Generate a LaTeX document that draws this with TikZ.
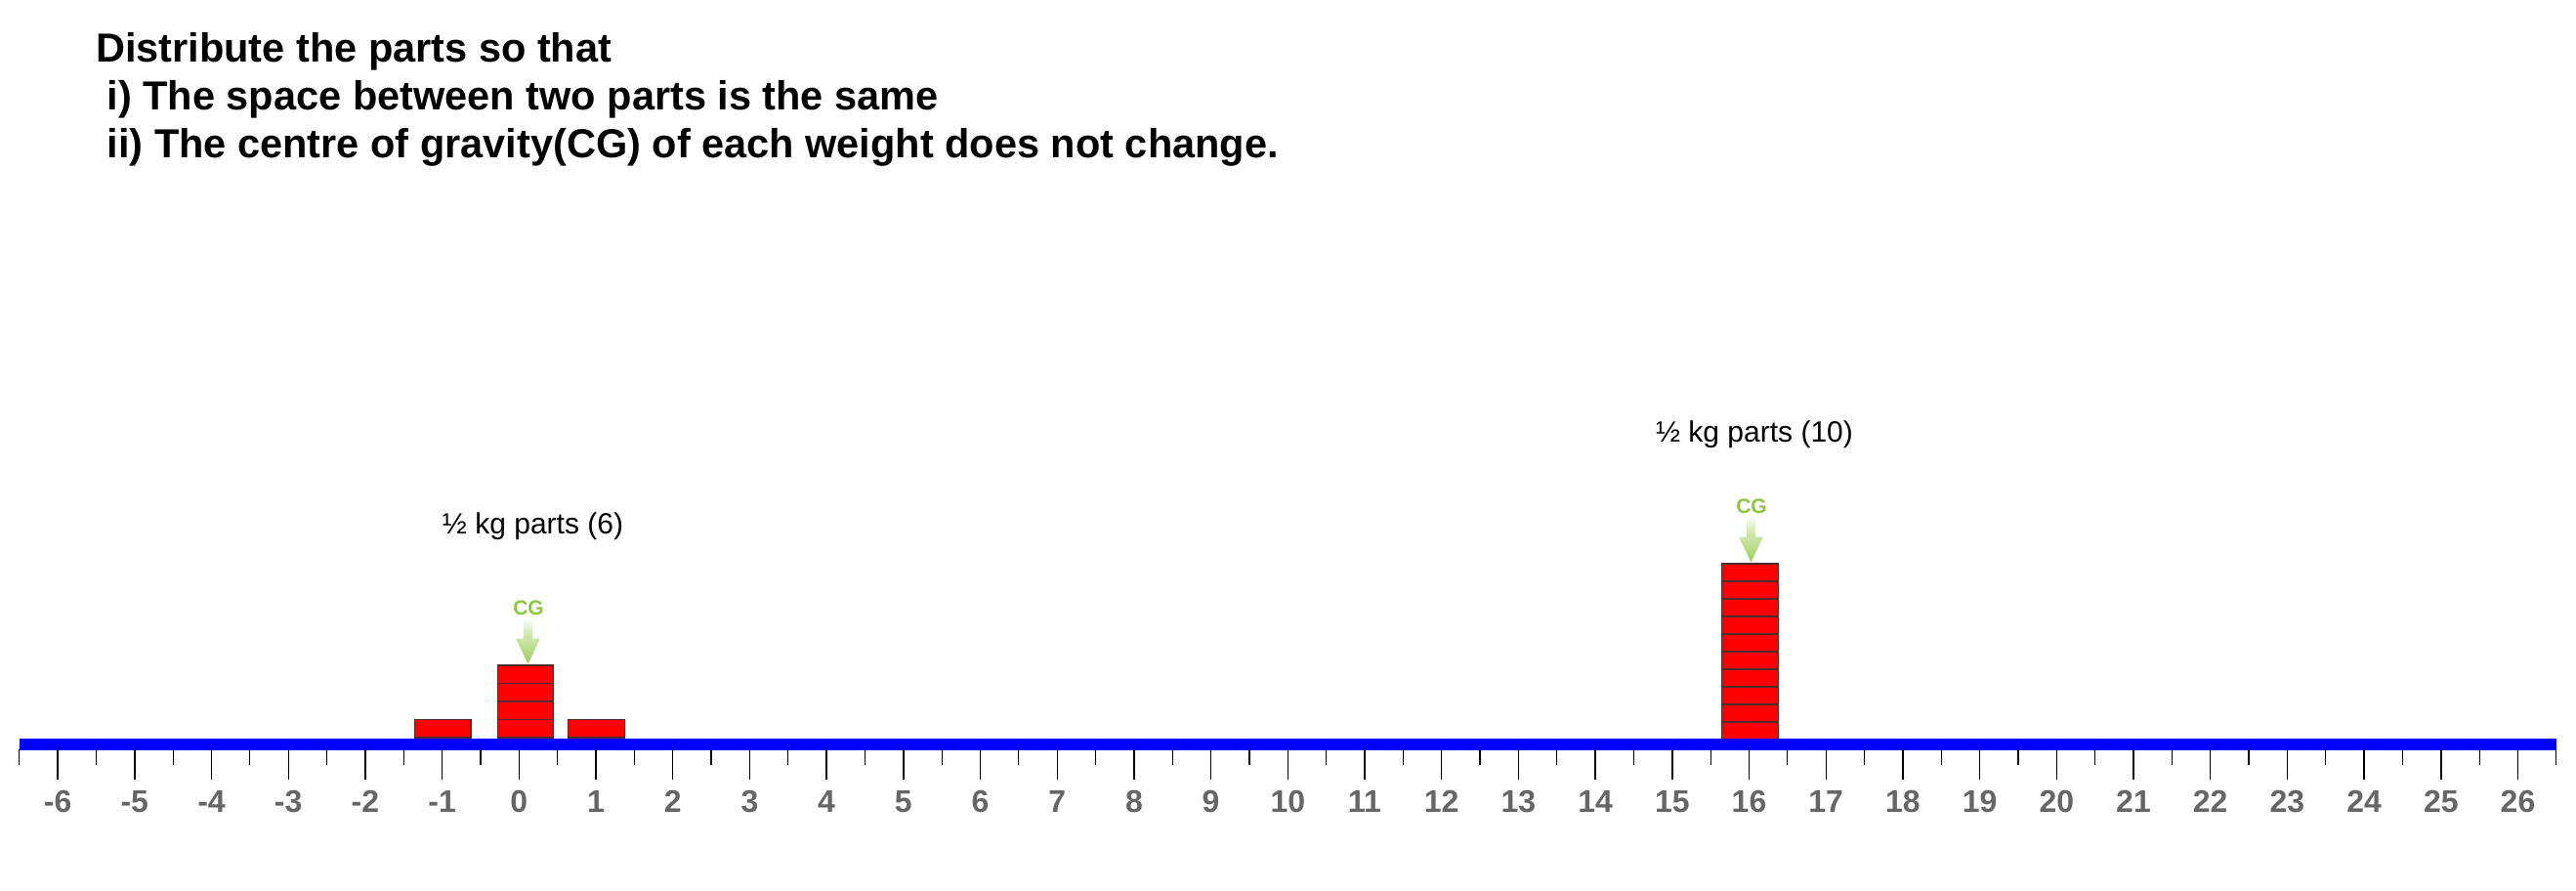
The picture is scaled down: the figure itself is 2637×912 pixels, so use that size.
\documentclass[tikz,border=0pt]{standalone}
\usepackage{fontspec}
\setmainfont{Liberation Sans}
\definecolor{axisblue}{RGB}{0,0,255}
\definecolor{partred}{RGB}{255,0,0}
\definecolor{partedge}{RGB}{75,45,45}
\definecolor{numgray}{RGB}{102,102,102}
\definecolor{cggreen}{RGB}{141,198,63}
\begin{document}
\begin{tikzpicture}[x=1pt,y=-1pt,
  titletext/.style={inner sep=0pt,anchor=base west,font=\fontsize{41.5}{50}\selectfont\bfseries},
  numlabel/.style={inner sep=0pt,anchor=base,text=numgray,font=\fontsize{32}{38}\selectfont\bfseries},
  partlabel/.style={inner sep=0pt,anchor=base,font=\fontsize{30}{36}\selectfont},
  cglabel/.style={inner sep=0pt,text=cggreen,font=\fontsize{21}{25}\selectfont\bfseries},
  majortick/.style={draw=black,line width=1.4pt},
  minortick/.style={draw=black,line width=1.2pt},
  partbox/.style={fill=partred,draw=partedge,line width=1.2pt},
]
\useasboundingbox (0,0) rectangle (2637,912);
\fill[white] (0,0) rectangle (2637,912);

% title
\node[titletext] (t1) at (98,63.5) {Distribute the parts so that};
\node[titletext] (t2) at (98,112.5) {\ i) The space between two parts is the same};
\node[titletext] (t3) at (98,161.5) {\ ii) The centre of gravity(CG) of each weight does not change.};

% parts: cx, bottom y, block height, count
\newcommand{\partstack}[4]{%
  \foreach \k in {1,...,#4} {
    \draw[partbox] ({#1-28.75},{#2-#3*\k}) rectangle ({#1+28.75},{#2-#3*(\k-1)});
  }
}
\partstack{453.3}{755}{18.7}{1}
\partstack{538}{755}{18.5}{4}
\partstack{610.5}{755}{18.7}{1}
\partstack{1791.5}{757}{18}{10}

% CG arrows: cx, tip y, name
\newcommand{\cgarrow}[3]{%
  \shade[top color=white,bottom color=cggreen!55] ({#1-4.5},{#2-48}) rectangle ({#1+4.5},{#2-25});
  \shade[top color=cggreen!45,bottom color=cggreen!85] ({#1-12.5},{#2-26}) -- ({#1+12.5},{#2-26}) -- (#1,#2) -- cycle;
  \node[cglabel] (#3) at ({#1+0.5},{#2-57}) {CG};
}
\cgarrow{540.5}{679.5}{cgA}
\cgarrow{1792.5}{575.5}{cgB}

% labels
\node[partlabel] (pA) at (545.5,546) {½ kg parts (6)};
\node[partlabel] (pB) at (1796,452) {½ kg parts (10)};

% axis
\fill[axisblue] (20,756) rectangle (2617,767.5);
\foreach \j in {-7,...,26} {
  \draw[minortick] ({531.3+78.7*(\j+0.5)},767) -- ++(0,15.5);
}
\foreach \i in {-6,...,26} {
  \draw[majortick] ({531.3+78.7*\i},767) -- ++(0,31);
  \node[numlabel] (n\i) at ({531.3+78.7*\i},831) {\i};
}
\end{tikzpicture}
\end{document}
